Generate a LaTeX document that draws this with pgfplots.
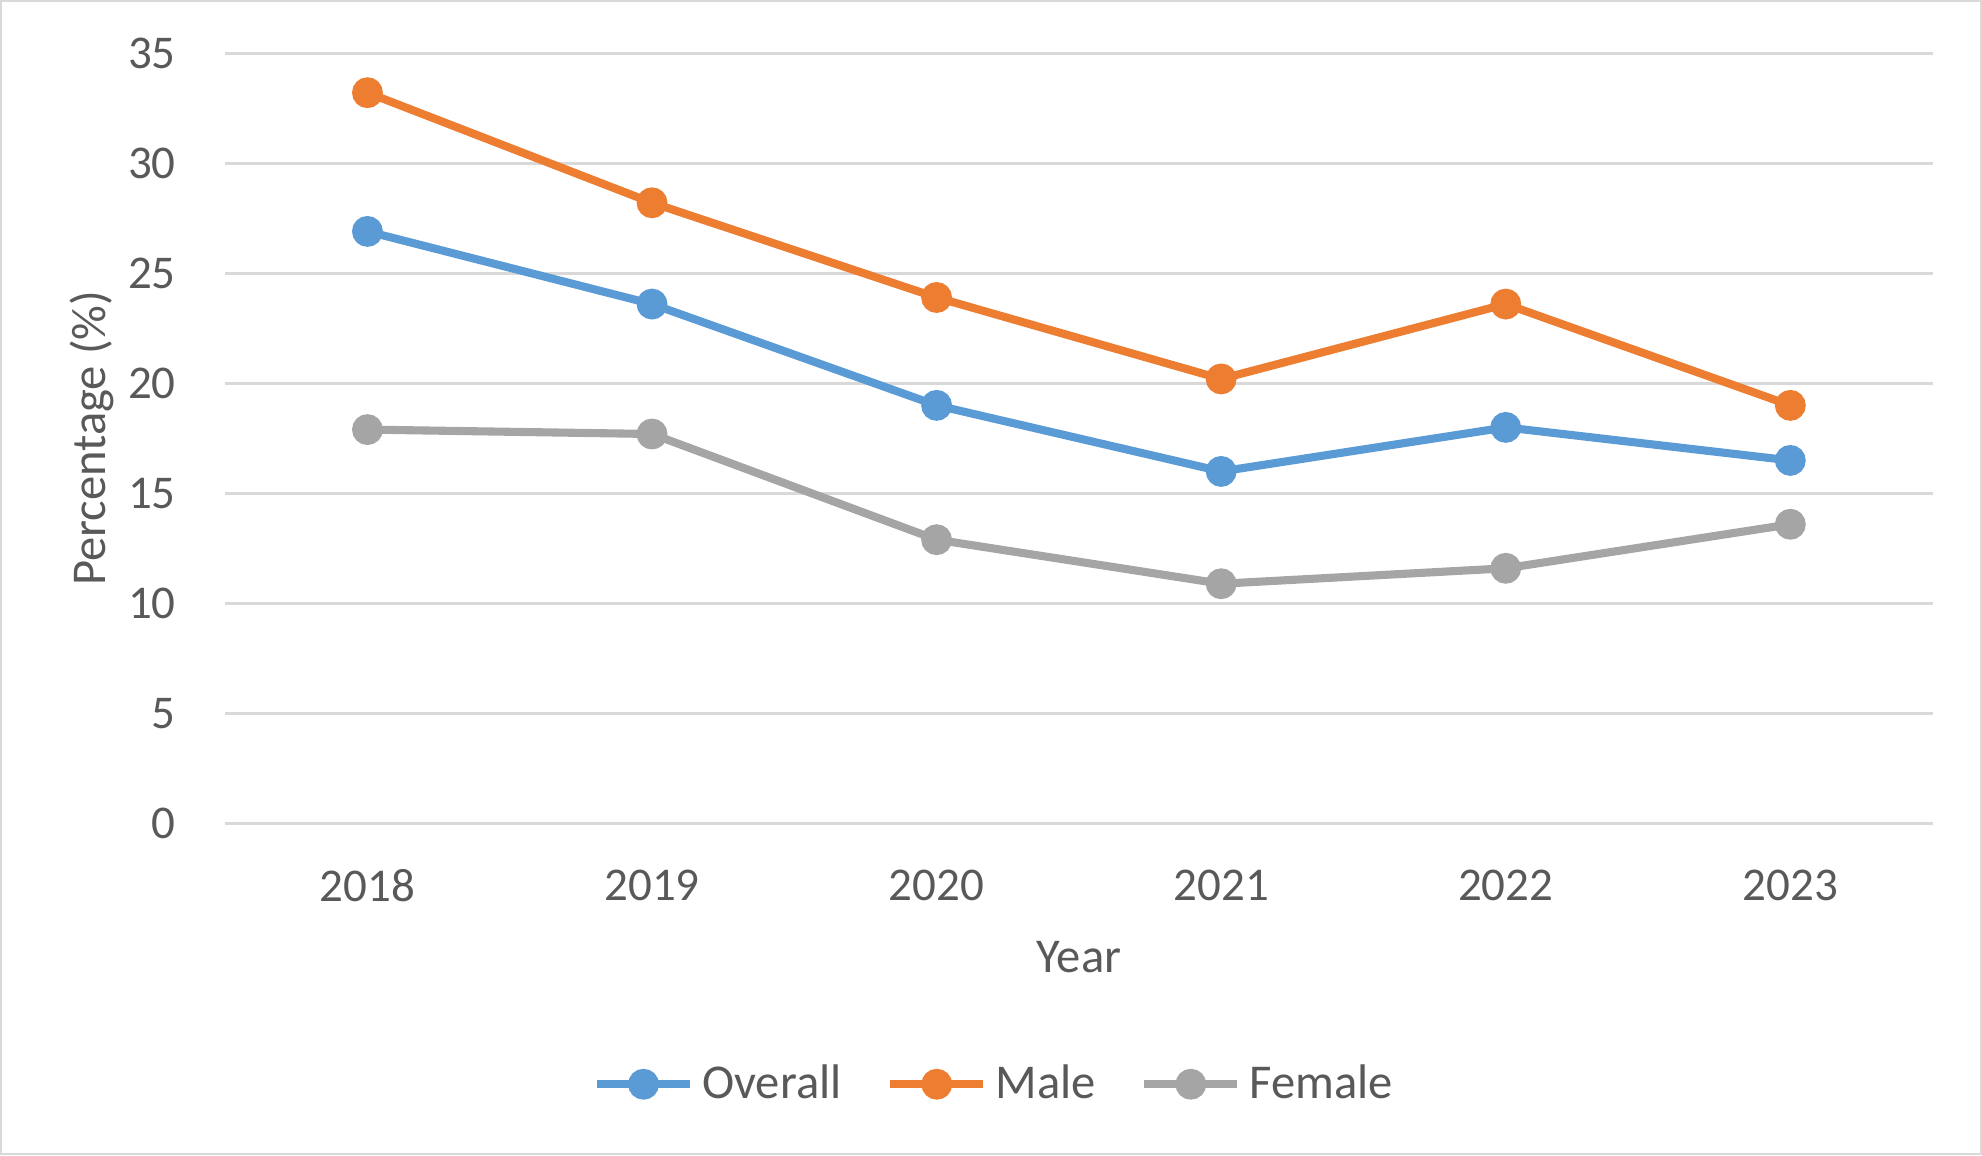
\documentclass[border=0pt]{standalone}
\usepackage{fontspec}
\setmainfont{Carlito}
\usepackage{pgfplots}
\pgfplotsset{compat=1.18}

\definecolor{cblue}{HTML}{5B9BD5}
\definecolor{corange}{HTML}{ED7D31}
\definecolor{cgray}{HTML}{A5A5A5}
\definecolor{ctext}{HTML}{595959}
\definecolor{cgrid}{HTML}{D9D9D9}

\pgfplotsset{
  xlmark/.style={
    legend image code/.code={
      \draw[mark repeat=2,mark phase=2] plot coordinates {(0pt,0pt) (11.5pt,0pt) (23pt,0pt)};
    }
  }
}

\begin{document}
\begin{tikzpicture}
\begin{axis}[
    name=ax,
    scale only axis,
    width=421.6pt, height=190.3pt,
    xmin=-0.5, xmax=5.5,
    ymin=0, ymax=35,
    xtick={0,1,2,3,4,5},
    xticklabels={2018,2019,2020,2021,2022,2023},
    ytick={0,5,...,35},
    ymajorgrids,
    grid style={cgrid, line width=0.75pt},
    axis line style={draw=none},
    major tick length=0pt,
    font=\fontsize{11.6}{14}\selectfont,
    every tick label/.append style={text=ctext},
    /pgf/number format/assume math mode=true,
    yticklabel style={anchor=east, inner sep=0pt, xshift=-12pt},
    xticklabel style={anchor=center, inner sep=0pt, yshift=-15.3pt},
    xlabel={Year},
    ylabel={Percentage (\%)},
    label style={text=ctext, font=\fontsize{12}{14}\selectfont},
    xlabel style={at={(axis description cs:0.5,0)}, anchor=center, yshift=-33pt},
    ylabel style={at={(axis description cs:0,0.5)}, anchor=center, yshift=33pt},
    legend style={
      at={(0.452,-0.338)}, anchor=center, draw=none,
      legend columns=3, font=\fontsize{12}{14}\selectfont, text=ctext,
      /tikz/every even column/.append style={column sep=9pt},
      legend cell align=left,
    },
    every axis plot/.append style={line width=2pt, mark=*, mark size=2.8pt, xlmark},
    clip=false,
]
\addplot[cblue, mark options={fill=cblue}] coordinates {(0,26.9) (1,23.6) (2,19.0) (3,16.0) (4,18.0) (5,16.5)};
\addplot[corange, mark options={fill=corange}] coordinates {(0,33.2) (1,28.2) (2,23.9) (3,20.2) (4,23.6) (5,19.0)};
\addplot[cgray, mark options={fill=cgray}] coordinates {(0,17.9) (1,17.7) (2,12.9) (3,10.9) (4,11.6) (5,13.6)};
\legend{Overall, Male, Female}
\end{axis}
\draw[cgrid, line width=0.6pt] ([shift={(-55.3pt,-81.6pt)}]ax.south west) rectangle ([shift={(11.9pt,12.8pt)}]ax.north east);
\end{tikzpicture}
\end{document}
